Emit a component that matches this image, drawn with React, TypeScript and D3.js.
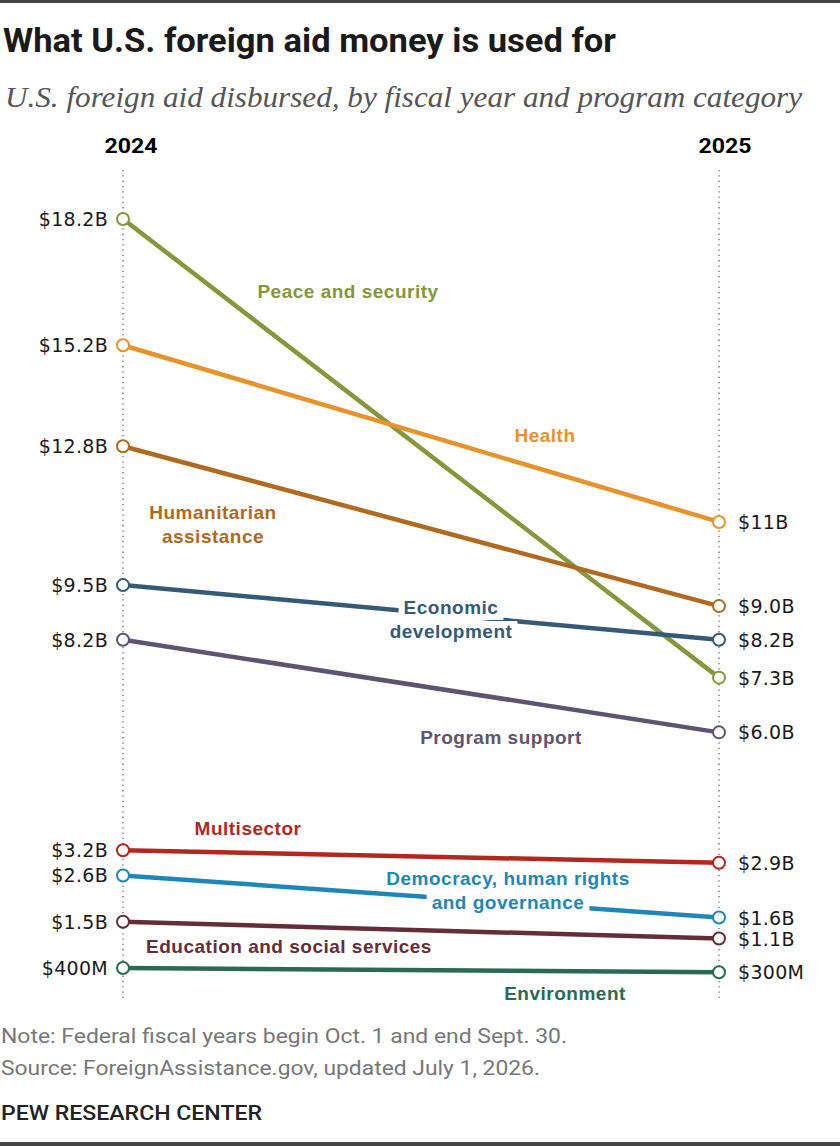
import React from "react";
import * as d3 from "d3";

const years = ["2024", "2025"];
const categories = [
  "Peace and security",
  "Health",
  "Humanitarian assistance",
  "Economic development",
  "Program support",
  "Multisector",
  "Democracy, human rights and governance",
  "Education and social services",
  "Environment",
];
const values2024 = [18.2, 15.2, 12.8, 9.5, 8.2, 3.2, 2.6, 1.5, 0.4];
const values2025 = [7.3, 11, 9.0, 8.2, 6.0, 2.9, 1.6, 1.1, 0.3];
const labels2024 = ["$18.2B", "$15.2B", "$12.8B", "$9.5B", "$8.2B", "$3.2B", "$2.6B", "$1.5B", "$400M"];
const labels2025 = ["$7.3B", "$11B", "$9.0B", "$8.2B", "$6.0B", "$2.9B", "$1.6B", "$1.1B", "$300M"];

// styling / layout (not data)
const colors = ["#84973a", "#e8922a", "#b0691f", "#355a78", "#5e5470", "#b3271f", "#1f86ba", "#642d39", "#2b6a52"];
const labelLines = [
  ["Peace and security"],
  ["Health"],
  ["Humanitarian", "assistance"],
  ["Economic", "development"],
  ["Program support"],
  ["Multisector"],
  ["Democracy, human rights", "and governance"],
  ["Education and social services"],
  ["Environment"],
];
const labelPos = [
  [348, 298],
  [545, 442],
  [213, 519],
  [451, 614],
  [501, 744],
  [248, 835],
  [508, 885],
  [289, 953],
  [565, 1000],
];

const LAB_FONT_SIZE = 19;
const LAB_SPACING = 0.5;
let measureCtx: CanvasRenderingContext2D | null = null;
function measure(t: string): number {
  if (!measureCtx && typeof document !== "undefined") {
    measureCtx = document.createElement("canvas").getContext("2d");
  }
  if (!measureCtx) return t.length * 10;
  measureCtx.font = `bold ${LAB_FONT_SIZE}px 'Liberation Sans', Arial, sans-serif`;
  return measureCtx.measureText(t).width + t.length * LAB_SPACING;
}

export default function App() {
  const W = 840, H = 1146;
  const x = d3.scalePoint<string>().domain(years).range([123, 719]);
  const y = d3.scaleLinear().domain([0.4, 18.2]).range([968, 219]);
  const line = d3.line<[string, number]>().x((d) => x(d[0])!).y((d) => y(d[1]));
  const valFont = "'DejaVu Sans', sans-serif";
  const labFont = "'Liberation Sans', Arial, sans-serif";
  const condFont = "Roboto, 'Liberation Sans', sans-serif";

  return (
    <svg width={W} height={H} viewBox={`0 0 ${W} ${H}`} style={{ position: "absolute", left: 0, top: 0, background: "#fff" }}>
      <rect x={0} y={0} width={W} height={H} fill="#fff" />
      <rect x={0} y={0} width={W} height={3} fill="#454545" />
      <rect x={0} y={1142} width={W} height={4} fill="#454545" />
      <text x={3} y={52} fontFamily={condFont} fontWeight={700} fontSize={34} fill="#1a1a1a" textLength={613} lengthAdjust="spacingAndGlyphs">
        What U.S. foreign aid money is used for
      </text>
      <text x={5} y={107} fontFamily="'Liberation Serif', 'DejaVu Serif', serif" fontStyle="italic" fontSize={29} fill="#555" textLength={797} lengthAdjust="spacingAndGlyphs">
        U.S. foreign aid disbursed, by fiscal year and program category
      </text>
      {years.map((yr, i) => (
        <g key={yr}>
          <text x={x(yr)! + (i === 0 ? 8 : 6)} y={153} textAnchor="middle" fontFamily={condFont} fontWeight={700} fontSize={20} fill="#000" textLength={53} lengthAdjust="spacingAndGlyphs">
            {yr}
          </text>
          <line x1={x(yr)} x2={x(yr)} y1={170} y2={1000} stroke="#666" strokeWidth={1.3} strokeDasharray="1.3,4" />
        </g>
      ))}
      {categories.map((c, i) => (
        <path key={c} d={line([[years[0], values2024[i]], [years[1], values2025[i]]])!} stroke={colors[i]} strokeWidth={4.5} fill="none" />
      ))}
      {categories.map((c, i) => (
        <g key={c + "l"}>
          {labelLines[i].map((t, j) => {
            const w = measure(t);
            return (
              <rect key={j} x={labelPos[i][0] - w / 2 - 5} y={labelPos[i][1] + j * 24 - 17} width={w + 10} height={23} fill="#fff" />
            );
          })}
          <text textAnchor="middle" fontFamily={labFont} fontWeight={700} fontSize={LAB_FONT_SIZE} letterSpacing={LAB_SPACING} fill={colors[i]}>
            {labelLines[i].map((t, j) => (
              <tspan key={j} x={labelPos[i][0]} y={labelPos[i][1] + j * 24}>{t}</tspan>
            ))}
          </text>
        </g>
      ))}
      {categories.map((c, i) => (
        <g key={c + "p"}>
          <circle cx={x(years[0])} cy={y(values2024[i])} r={6} fill="#fff" stroke={colors[i]} strokeWidth={2} />
          <circle cx={x(years[1])} cy={y(values2025[i])} r={6} fill="#fff" stroke={colors[i]} strokeWidth={2} />
          <text x={108} y={y(values2024[i]) + 7} textAnchor="end" fontFamily={valFont} fontSize={19} letterSpacing={0.3} fill="#1a1a1a">{labels2024[i]}</text>
          <text x={738} y={y(values2025[i]) + 7} textAnchor="start" fontFamily={valFont} fontSize={19} letterSpacing={0.3} fill="#1a1a1a">{labels2025[i]}</text>
        </g>
      ))}
      <text x={1} y={1043} fontFamily={condFont} fontSize={20} fill="#777" textLength={566} lengthAdjust="spacingAndGlyphs">
        Note: Federal fiscal years begin Oct. 1 and end Sept. 30.
      </text>
      <text x={1} y={1075} fontFamily={condFont} fontSize={20} fill="#777" textLength={539} lengthAdjust="spacingAndGlyphs">
        Source: ForeignAssistance.gov, updated July 1, 2026.
      </text>
      <text x={1} y={1120} fontFamily={condFont} fontWeight={500} fontSize={21} fill="#222" textLength={261} lengthAdjust="spacingAndGlyphs">
        PEW RESEARCH CENTER
      </text>
    </svg>
  );
}
